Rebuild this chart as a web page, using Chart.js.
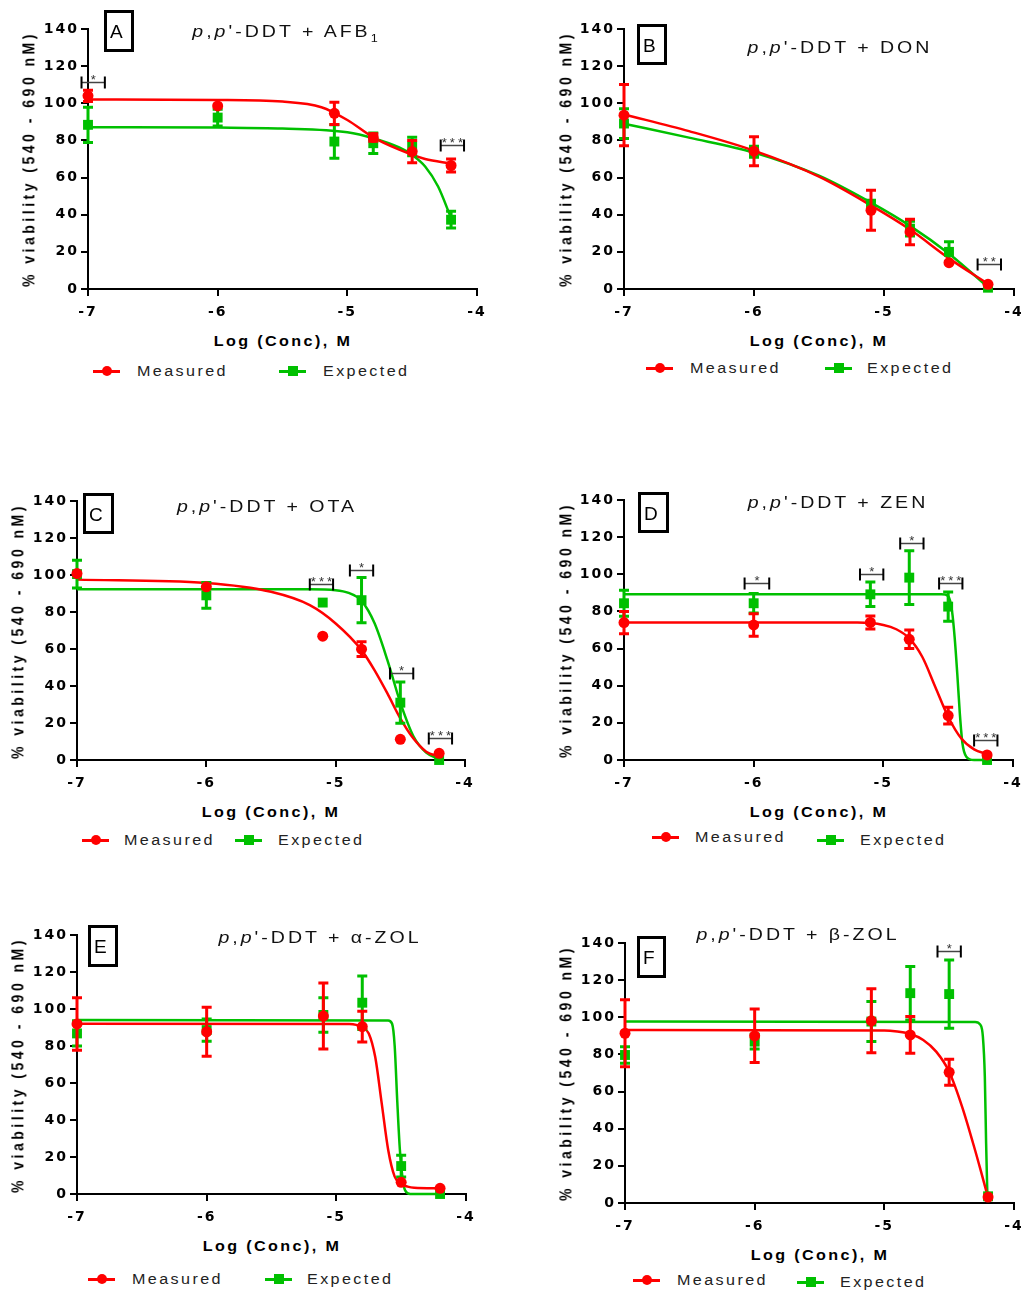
<!DOCTYPE html>
<html lang="en">
<head>
<meta charset="UTF-8">
<title>p,p'-DDT combinations - viability</title>
<style>
    body { margin: 0; background: #fff; font-family: 'Liberation Sans', Arial, sans-serif; }
    #page { position: relative; width: 1021px; height: 1291px; overflow: hidden; }
    canvas { position: absolute; }
    .title { position: absolute; transform: translate(-50%, -50%) scaleX(1.15); font-size: 17px; letter-spacing: 2.6px; color: #111; white-space: nowrap; }
    .title sub { font-size: 11px; letter-spacing: 0; }
    .box { position: absolute; box-sizing: border-box; border: 3px solid #000; font-size: 19px; padding-left: 3px; color: #000; }
    .ytitle { position: absolute; transform: translate(-50%, -50%) rotate(-90deg) scaleY(1.2); font-weight: bold; font-size: 14px; letter-spacing: 3.5px; white-space: nowrap; color: #000; }
    .xtitle { position: absolute; transform: translate(-50%, -50%) scaleX(1.15); font-weight: bold; font-size: 14px; letter-spacing: 2.1px; white-space: nowrap; color: #000; }
    .legline { position: absolute; height: 3px; width: 27px; }
    .legmark { position: absolute; width: 10px; height: 10px; }
    .legtext { position: absolute; transform: translateY(-50%) scaleX(1.15); transform-origin: left center; font-size: 14px; letter-spacing: 2.1px; color: #222; white-space: nowrap; }
</style>
</head>
<body>
<div id="page"></div>

<script src="https://cdn.jsdelivr.net/npm/chart.js"></script>
<script>
    // log concentrations used in every panel
    const doses = [-7, -6, -5.1, -4.8, -4.5, -4.2];

    // A: p,p'-DDT + AFB1
    const aMeas = [104, 98.6, 94.6, 81.6, 74, 66.5];
    const aMeasErr = [3, 0, 6, 2, 6, 3.5];
    const aExp = [88.4, 92.3, 79.4, 78.5, 76.7, 37.3];
    const aExpErr = [9.5, 4.5, 9, 5.5, 5, 4.5];
    const aMeasCurveX = [-7, -6, -5.5, -5.2, -5.0, -4.8, -4.6, -4.4, -4.2];
    const aMeasCurveY = [102, 101.8, 100.9, 97.9, 91, 81.6, 75, 70, 67.6];
    const aExpCurveX = [-7, -6, -5.5, -5.0, -4.8, -4.6, -4.5, -4.4, -4.3, -4.2];
    const aExpCurveY = [87.1, 86.9, 86.4, 84.4, 81.2, 76.2, 72.2, 66, 55.2, 38.2];
    const aStars = [[-7.05, -6.87, 111.7, '*'], [-4.28, -4.10, 77.6, '***']];

    // B: p,p'-DDT + DON
    const bMeas = [93.6, 74.2, 42.4, 30.7, 14.2, 2.5];
    const bMeasErr = [16.5, 7.8, 10.8, 6.9, 0, 0];
    const bExp = [89.1, 73.9, 45.1, 32.5, 20, 0.7];
    const bExpErr = [8, 3, 2.7, 4, 5.4, 0];
    const bCurveX = [-7, -6.5, -6, -5.5, -5.1, -4.8, -4.5, -4.2];
    const bMeasCurveY = [94, 85, 74.5, 60.5, 45, 32, 16.5, 2.8];
    const bExpCurveY = [89, 81.5, 73.5, 61, 46.5, 34, 19, 1];
    const bStars = [[-4.28, -4.10, 13.7, '**']];

    // C: p,p'-DDT + OTA
    const cMeas = [100.8, 93.6, 66.9, 59.9, 11.2, 3.6];
    const cMeasErr = [0, 0, 0, 4, 0, 0];
    const cExp = [100.5, 89, 85.1, 86.4, 31, 0];
    const cExpErr = [7.5, 7, 0, 12.2, 11.2, 0];
    const cMeasCurveX = [-7, -6, -5.5, -5.2, -5.0, -4.8, -4.7, -4.6, -4.5, -4.4, -4.3, -4.2];
    const cMeasCurveY = [97.5, 95.7, 90.9, 83.7, 73.8, 59.4, 48.6, 36, 22.5, 11.7, 4.5, 1.8];
    const cExpCurveX = [-7, -5.2, -5.0, -4.9, -4.8, -4.7, -4.6, -4.5, -4.4, -4.3, -4.2];
    const cExpCurveY = [92.3, 92.3, 91.8, 90.3, 86, 74, 54, 31, 13, 4, 0.5];
    const cStars = [[-5.20, -5.02, 95, '***'], [-4.89, -4.71, 102.6, '*'], [-4.58, -4.40, 47.1, '*'], [-4.28, -4.10, 12.1, '***']];

    // D: p,p'-DDT + ZEN
    const dMeas = [74, 72.7, 74.1, 65, 23.9, 2.7];
    const dMeasErr = [6, 6, 3.5, 5, 4.5, 0];
    const dExp = [84.4, 84.4, 89.2, 98.2, 82.6, 0];
    const dExpErr = [7, 5.2, 6.6, 14.5, 7.9, 0];
    const dMeasCurveX = [-7, -5.2, -5.0, -4.9, -4.8, -4.7, -4.6, -4.5, -4.4, -4.3, -4.2];
    const dMeasCurveY = [74, 74, 72.7, 70.4, 65.5, 55.6, 39.5, 23.3, 11.7, 5.7, 3.2];
    const dExpCurveX = [-7, -4.55, -4.5, -4.47, -4.45, -4.43, -4.41, -4.39, -4.36, -4.3, -4.2];
    const dExpCurveY = [89.2, 89.2, 88.3, 80, 66, 46.7, 25, 9, 1.8, 0, 0];
    const dStars = [[-6.07, -5.88, 95.1, '*'], [-5.18, -5.0, 100.2, '*'], [-4.87, -4.69, 117, '*'], [-4.57, -4.39, 95.1, '***'], [-4.30, -4.12, 10.8, '***']];

    // E: p,p'-DDT + alpha-ZOL
    const eMeas = [91.9, 87.7, 96.2, 90.5, 6.3, 3.1];
    const eMeasErr = [14.2, 13.3, 17.8, 8.3, 0, 0];
    const eExp = [86.8, 88.6, 96.8, 103.4, 15.1, 0];
    const eExpErr = [6.8, 6, 9.3, 14.5, 5.9, 0];
    const eMeasCurveX = [-7, -4.9, -4.8, -4.75, -4.7, -4.65, -4.6, -4.55, -4.5, -4.45, -4.4, -4.2];
    const eMeasCurveY = [92, 91.9, 90.1, 86.8, 74, 49, 23.8, 9.4, 5.4, 4, 3.4, 3.1];
    const eExpCurveX = [-7, -4.6, -4.57, -4.55, -4.53, -4.51, -4.49, -4.47, -4.43, -4.2];
    const eExpCurveY = [94, 93.8, 92, 80, 50, 24, 9, 2, 0, 0];
    const eStars = [];

    // F: p,p'-DDT + beta-ZOL
    const fMeas = [91.4, 90, 98.1, 90.5, 70.4, 3.2];
    const fMeasErr = [18, 14.4, 17.2, 9.9, 7, 0];
    const fExp = [79.7, 86.9, 97.7, 113, 112.5, 3.6];
    const fExpErr = [4.5, 4, 10.8, 14.4, 18.4, 0];
    const fMeasCurveX = [-7, -5.0, -4.9, -4.8, -4.7, -4.6, -4.5, -4.4, -4.3, -4.25, -4.2];
    const fMeasCurveY = [93.2, 92.9, 92.3, 91, 87.8, 81.5, 70.7, 51.8, 28.4, 15.8, 2.9];
    const fExpCurveX = [-7, -4.3, -4.26, -4.24, -4.225, -4.215, -4.205];
    const fExpCurveY = [97.7, 97.5, 96, 89.6, 68, 32, 3.2];
    const fStars = [[-4.59, -4.41, 135.5, '*']];

    const RED = '#ff0000';
    const GREEN = '#00c000';
    const FONT = "'Liberation Sans', Arial, sans-serif";
    const TICK_FONT = "'DejaVu Sans', sans-serif";

    const pairs = (xs, ys) => xs.map((x, i) => ({ x: x, y: ys[i] }));

    // data + page placement of every panel
    const panels = [
        { label: 'A', title: "<i>p</i>,<i>p</i>'-DDT + AFB<sub>1</sub>",
          meas: aMeas, measErr: aMeasErr, exp: aExp, expErr: aExpErr,
          measCurve: pairs(aMeasCurveX, aMeasCurveY), expCurve: pairs(aExpCurveX, aExpCurveY), stars: aStars,
          ax: [88, 477, 29, 289], titlePos: [285, 33], box: [104, 10, 30, 42], yt: 28,
          leg: [[93, 371, 137], [279, 371, 323]] },
        { label: 'B', title: "<i>p</i>,<i>p</i>'-DDT + DON",
          meas: bMeas, measErr: bMeasErr, exp: bExp, expErr: bExpErr,
          measCurve: pairs(bCurveX, bMeasCurveY), expCurve: pairs(bCurveX, bExpCurveY), stars: bStars,
          ax: [624, 1014, 29, 289], titlePos: [840, 48], box: [637, 24, 30, 41], yt: 565,
          leg: [[646, 368, 690], [825, 368, 867]] },
        { label: 'C', title: "<i>p</i>,<i>p</i>'-DDT + OTA",
          meas: cMeas, measErr: cMeasErr, exp: cExp, expErr: cExpErr,
          measCurve: pairs(cMeasCurveX, cMeasCurveY), expCurve: pairs(cExpCurveX, cExpCurveY), stars: cStars,
          ax: [77, 465, 501, 760], titlePos: [267, 507], box: [83, 493, 31, 41], yt: 17,
          leg: [[82, 840, 124], [235, 840, 278]] },
        { label: 'D', title: "<i>p</i>,<i>p</i>'-DDT + ZEN",
          meas: dMeas, measErr: dMeasErr, exp: dExp, expErr: dExpErr,
          measCurve: pairs(dMeasCurveX, dMeasCurveY), expCurve: pairs(dExpCurveX, dExpCurveY), stars: dStars,
          ax: [624, 1013, 500, 760], titlePos: [838, 503], box: [638, 492, 31, 41], yt: 565,
          leg: [[652, 837, 695], [817, 840, 860]] },
        { label: 'E', title: "<i>p</i>,<i>p</i>'-DDT + \u03b1-ZOL",
          meas: eMeas, measErr: eMeasErr, exp: eExp, expErr: eExpErr,
          measCurve: pairs(eMeasCurveX, eMeasCurveY), expCurve: pairs(eExpCurveX, eExpCurveY), stars: eStars,
          ax: [77, 466, 935, 1194], titlePos: [320, 938], box: [88, 925, 30, 42], yt: 17,
          leg: [[88, 1279, 132], [265, 1279, 307]] },
        { label: 'F', title: "<i>p</i>,<i>p</i>'-DDT + \u03b2-ZOL",
          meas: fMeas, measErr: fMeasErr, exp: fExp, expErr: fExpErr,
          measCurve: pairs(fMeasCurveX, fMeasCurveY), expCurve: pairs(fExpCurveX, fExpCurveY), stars: fStars,
          ax: [625, 1014, 943, 1203], titlePos: [798, 935], box: [637, 936, 29, 42], yt: 565,
          leg: [[633, 1280, 677], [797, 1282, 840]] }
    ];

    // error bars, drawn just before their own point set; brackets on top
    const errorBars = {
        id: 'errorBars',
        beforeDraw(chart) {
            chart.ctx.letterSpacing = '2px';
        },
        beforeDatasetDraw(chart, args) {
            const ds = chart.data.datasets[args.index];
            if (!ds.errors) return;
            const ctx = chart.ctx, xs = chart.scales.x, ys = chart.scales.y;
            ctx.save();
            ctx.strokeStyle = ds.borderColor;
            ctx.lineWidth = 3;
            ds.data.forEach((pt, i) => {
                const e = ds.errors[i];
                if (!e) return;
                const px = xs.getPixelForValue(pt.x);
                const top = ys.getPixelForValue(pt.y + e);
                const bot = ys.getPixelForValue(pt.y - e);
                ctx.beginPath();
                ctx.moveTo(px, top); ctx.lineTo(px, bot);
                ctx.moveTo(px - 5, top); ctx.lineTo(px + 5, top);
                ctx.moveTo(px - 5, bot); ctx.lineTo(px + 5, bot);
                ctx.stroke();
            });
            ctx.restore();
        },
        afterDatasetsDraw(chart) {
            const stars = chart.options.plugins.errorBars.stars || [];
            const ctx = chart.ctx, xs = chart.scales.x, ys = chart.scales.y;
            ctx.save();
            stars.forEach(s => {
                const x1 = xs.getPixelForValue(s[0]);
                const x2 = xs.getPixelForValue(s[1]);
                const y = Math.round(ys.getPixelForValue(s[2])) + 0.5;
                ctx.strokeStyle = '#444';
                ctx.lineWidth = 1.5;
                ctx.beginPath(); ctx.moveTo(x1, y); ctx.lineTo(x2, y); ctx.stroke();
                ctx.strokeStyle = '#000';
                ctx.lineWidth = 2;
                ctx.beginPath();
                ctx.moveTo(x1, y - 6); ctx.lineTo(x1, y + 6);
                ctx.moveTo(x2, y - 6); ctx.lineTo(x2, y + 6);
                ctx.stroke();
                ctx.letterSpacing = '3px';
                ctx.fillStyle = '#333';
                ctx.font = '13px ' + FONT;
                ctx.textAlign = 'center';
                ctx.textBaseline = 'alphabetic';
                ctx.fillText(s[3], (x1 + x2) / 2 + 1.5, y + 1);
            });
            ctx.restore();
        }
    };

    const page = document.getElementById('page');

    function addDiv(cls, html, css) {
        const d = document.createElement('div');
        d.className = cls;
        d.innerHTML = html;
        Object.assign(d.style, css);
        page.appendChild(d);
        return d;
    }

    panels.forEach(p => {
        const [axL, axR, axT, axB] = p.ax;
        const canvas = document.createElement('canvas');
        const w = axR - axL + 80, h = axB - axT + 60;
        canvas.width = w; canvas.height = h;
        canvas.style.left = (axL - 60) + 'px';
        canvas.style.top = (axT - 20) + 'px';
        canvas.style.width = w + 'px';
        canvas.style.height = h + 'px';
        page.appendChild(canvas);

        const tickFont = { family: TICK_FONT, size: 14, weight: 'bold' };

        new Chart(canvas, {
            type: 'line',
            data: {
                datasets: [
                    { label: 'Measured', data: pairs(doses, p.meas), errors: p.measErr, showLine: false,
                      pointStyle: 'circle', pointRadius: 5.5, backgroundColor: RED, borderColor: RED, borderWidth: 0, clip: false },
                    { label: 'Expected', data: pairs(doses, p.exp), errors: p.expErr, showLine: false,
                      pointStyle: 'rect', pointRadius: 7, backgroundColor: GREEN, borderColor: GREEN, borderWidth: 0, clip: false },
                    { label: 'Measured fit', data: p.measCurve, pointRadius: 0, borderColor: RED, borderWidth: 2.5,
                      cubicInterpolationMode: 'monotone', fill: false, clip: false },
                    { label: 'Expected fit', data: p.expCurve, pointRadius: 0, borderColor: GREEN, borderWidth: 2.5,
                      cubicInterpolationMode: 'monotone', fill: false, clip: false }
                ]
            },
            options: {
                responsive: false,
                animation: false,
                devicePixelRatio: 1,
                layout: { padding: { top: 20, right: 20, left: 0, bottom: 0 } },
                plugins: {
                    legend: { display: false },
                    tooltip: { enabled: false },
                    errorBars: { stars: p.stars }
                },
                scales: {
                    x: {
                        type: 'linear', min: -7, max: -4,
                        ticks: { stepSize: 1, font: tickFont, color: '#000', padding: 8, maxRotation: 0 },
                        grid: { drawOnChartArea: false, drawTicks: true, tickLength: 7, color: '#000', lineWidth: 2 },
                        border: { color: '#000', width: 2 },
                        afterFit: s => { s.height = 40; }
                    },
                    y: {
                        type: 'linear', min: 0, max: 140,
                        ticks: { stepSize: 20, font: tickFont, color: '#000', padding: 2 },
                        grid: { drawOnChartArea: false, drawTicks: true, tickLength: 7, color: '#000', lineWidth: 2 },
                        border: { color: '#000', width: 2 },
                        afterFit: s => { s.width = 60; }
                    }
                }
            },
            plugins: [errorBars]
        });

        // panel text
        addDiv('title', p.title, { left: p.titlePos[0] + 'px', top: p.titlePos[1] + 'px' });
        addDiv('box', p.label, { left: p.box[0] + 'px', top: p.box[1] + 'px', width: p.box[2] + 'px', height: p.box[3] + 'px',
                                 lineHeight: (p.box[3] - 4) + 'px' });
        addDiv('ytitle', '% viability (540 - 690 nM)', { left: p.yt + 'px', top: ((axT + axB) / 2) + 'px' });
        addDiv('xtitle', 'Log (Conc), M', { left: ((axL + axR) / 2) + 'px', top: (axB + 52) + 'px' });

        // legend
        [['Measured', RED, '50%'], ['Expected', GREEN, '0']].forEach((item, i) => {
            const [lx, ly, tx] = p.leg[i];
            addDiv('legline', '', { left: lx + 'px', top: (ly - 1.5) + 'px', background: item[1] });
            addDiv('legmark', '', { left: (lx + 8.5) + 'px', top: (ly - 5) + 'px', background: item[1], borderRadius: item[2] });
            addDiv('legtext', item[0], { left: tx + 'px', top: ly + 'px' });
        });
    });
</script>
</body>
</html>
